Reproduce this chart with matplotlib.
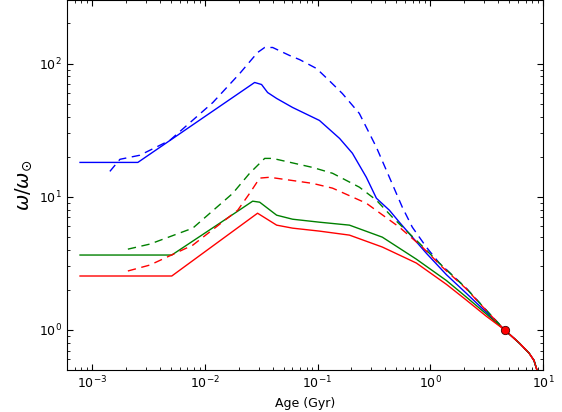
import numpy as np
import matplotlib
matplotlib.use("Agg")
import matplotlib.pyplot as plt

# rotation history, omega / omega_sun vs age (Gyr)
tail_age = [4.57, 6.13, 7.52, 8.32, 8.9]
tail_w = [1.0, 0.80, 0.67, 0.59, 0.49]

blue_age = [7.83e-4, 2.55e-3, 0.0277, 0.0319, 0.0361, 0.0434, 0.0601, 0.104, 0.157,
            0.204, 0.271, 0.333, 0.434, 0.532, 0.922, 1.39, 2.08, 3.13]
blue_w = [18.1, 18.1, 72.1, 69.6, 60.6, 54.7, 46.8, 37.4, 27.4,
          21.2, 14.0, 9.74, 7.92, 6.44, 3.77, 2.6, 1.89, 1.36]

blue_d_age = [1.44e-3, 1.77e-3, 2.66e-3, 4.90e-3, 0.0118, 0.0204, 0.0294, 0.0340, 0.0400,
              0.0565, 0.0695, 0.098, 0.128, 0.166, 0.235, 0.333, 0.434, 0.565, 0.693,
              0.922, 1.20, 2.08, 3.13]
blue_d_w = [15.5, 19.1, 20.5, 26.5, 51.0, 84.1, 121, 132, 132,
            115, 107, 91.8, 74.0, 59.6, 42.2, 23.5, 14.0, 8.35, 5.91,
            4.19, 3.18, 2.06, 1.41]

green_age = [7.83e-4, 5.10e-3, 0.0128, 0.0266, 0.0307, 0.0434, 0.0601, 0.104, 0.192,
             0.376, 0.752, 1.39, 2.08, 3.13]
green_w = [3.65, 3.65, 6.12, 9.26, 9.10, 7.27, 6.78, 6.44, 6.12,
           4.97, 3.4, 2.35, 1.77, 1.32]

green_d_age = [2.08e-3, 3.26e-3, 7.83e-3, 0.0177, 0.0250, 0.0340, 0.0400, 0.0903, 0.136,
               0.235, 0.333, 0.461, 0.80, 1.20, 2.08, 3.13]
green_d_w = [4.04, 4.41, 5.81, 10.6, 15.0, 19.4, 19.4, 16.6, 15.0,
             11.8, 9.42, 7.02, 4.48, 3.18, 2.06, 1.41]

red_age = [7.83e-4, 5.10e-3, 0.0294, 0.0434, 0.0601, 0.104, 0.192, 0.376, 0.752, 1.39,
           2.08, 3.13]
red_w = [2.54, 2.54, 7.52, 6.12, 5.81, 5.52, 5.15, 4.19, 3.18, 2.2, 1.68, 1.27]

red_d_age = [2.08e-3, 3.26e-3, 7.83e-3, 0.0196, 0.0250, 0.0307, 0.0376, 0.0903, 0.136,
             0.271, 0.532, 0.85, 1.28, 2.08, 3.13]
red_d_w = [2.77, 3.07, 4.33, 7.92, 10.6, 13.8, 14.0, 12.6, 11.6,
           8.94, 5.91, 4.19, 2.96, 2.04, 1.40]

sun_age = [4.57]
sun_w = [1.0]

series = [
    (blue_age, blue_w, "b", "-"),
    (blue_d_age, blue_d_w, "b", "--"),
    (green_age, green_w, "g", "-"),
    (green_d_age, green_d_w, "g", "--"),
    (red_age, red_w, "r", "-"),
    (red_d_age, red_d_w, "r", "--"),
]

fig = plt.figure(figsize=(5.62, 4.12), dpi=100)
ax = fig.add_axes([0.1192, 0.1019, 0.8470, 0.8981])

for age, w, c, ls in series:
    x = list(age) + tail_age
    y = list(w) + tail_w
    line, = ax.plot(x, y, color=c, linestyle=ls, lw=1.0)
    if ls == "--":
        line.set_dashes((6, 4))

ax.plot(sun_age, sun_w, "o", color="r", markersize=6, markeredgecolor="#400000",
        markeredgewidth=0.6, zorder=5)

ax.set_xscale("log")
ax.set_yscale("log")
ax.set_xlim(6.0e-4, 10)
ax.set_ylim(0.5, 300)
ax.set_xlabel("Age (Gyr)", fontsize=9)
ax.set_ylabel(r"$\omega/\omega_{\odot}$", fontsize=14)
ax.tick_params(which="both", direction="in", top=True, right=True, labelsize=9)
ax.tick_params(which="major", length=4)
ax.tick_params(which="minor", length=2)

fig.savefig("out.png", dpi=100)
